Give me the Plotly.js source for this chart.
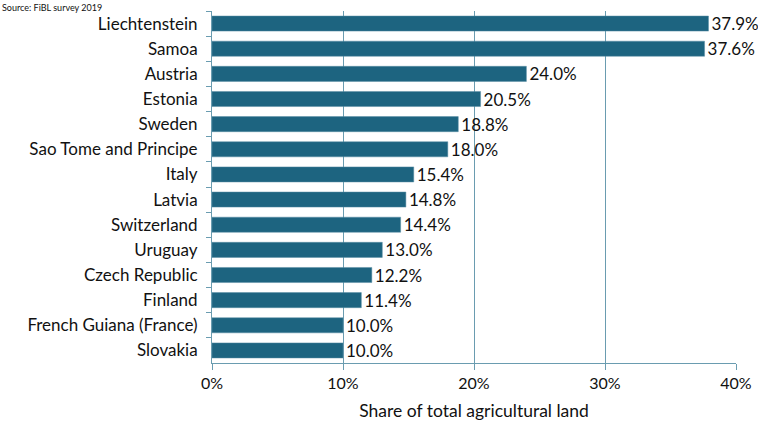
<!DOCTYPE html>
<html><head><meta charset="utf-8">
<script src="https://cdn.plot.ly/plotly-3.0.1.min.js"></script>
<style>html,body{margin:0;padding:0;background:#fff}</style>
</head><body>
<div id="chart" style="width:758px;height:423px"></div>
<script>
var countries = ["Liechtenstein","Samoa","Austria","Estonia","Sweden","Sao Tome and Principe","Italy","Latvia","Switzerland","Uruguay","Czech Republic","Finland","French Guiana (France)","Slovakia"];
var shares = [37.9,37.6,24.0,20.5,18.8,18.0,15.4,14.8,14.4,13.0,12.2,11.4,10.0,10.0];
var labels = ["37.9%","37.6%","24.0%","20.5%","18.8%","18.0%","15.4%","14.8%","14.4%","13.0%","12.2%","11.4%","10.0%","10.0%"];
var xTickVals = [0,10,20,30,40];
var xTickText = ["0%","10%","20%","30%","40%"];

var font = "Lato, 'Open Sans', sans-serif";
var axisColor = "#6a9cb0";

Plotly.newPlot("chart", [{
  type: "bar",
  orientation: "h",
  y: countries,
  x: shares,
  text: labels,
  textposition: "outside",
  constraintext: "none",
  cliponaxis: false,
  textfont: {family: font, size: 17, color: "#111"},
  marker: {color: "#1d6480", line: {color: "#5a8ea5", width: 0.5}},
  width: 0.6,
  hoverinfo: "none"
}], {
  width: 758, height: 423,
  margin: {l: 212, r: 22, t: 11, b: 60},
  paper_bgcolor: "#fff", plot_bgcolor: "#fff",
  showlegend: false,
  font: {family: font, size: 17, color: "#111"},
  xaxis: {
    range: [0, 40],
    tickvals: xTickVals, ticktext: xTickText,
    showgrid: true, gridcolor: axisColor, gridwidth: 1,
    showline: true, linecolor: axisColor, linewidth: 1,
    ticks: "outside", ticklen: 6, tickcolor: axisColor,
    zeroline: false,
    tickfont: {family: font, size: 16, color: "#111"},
    title: {text: "Share of total agricultural land", font: {family: font, size: 17.5, color: "#111"}, standoff: 13},
    fixedrange: true
  },
  yaxis: {
    type: "category",
    autorange: "reversed",
    showline: true, linecolor: axisColor, linewidth: 1,
    ticks: "outside", ticklen: 5, tickcolor: axisColor,
    tickson: "boundaries",
    showgrid: false,
    tickfont: {family: font, size: 17, color: "#111"},
    ticklabelstandoff: 10,
    fixedrange: true
  },
  annotations: [{
    text: "Source: FiBL survey 2019",
    xref: "paper", yref: "paper",
    x: -0.405, y: 1.031, xanchor: "left", yanchor: "top",
    showarrow: false,
    font: {family: font, size: 9, color: "#111"}
  }]
}, {displayModeBar: false, staticPlot: true});
</script>
</body></html>
